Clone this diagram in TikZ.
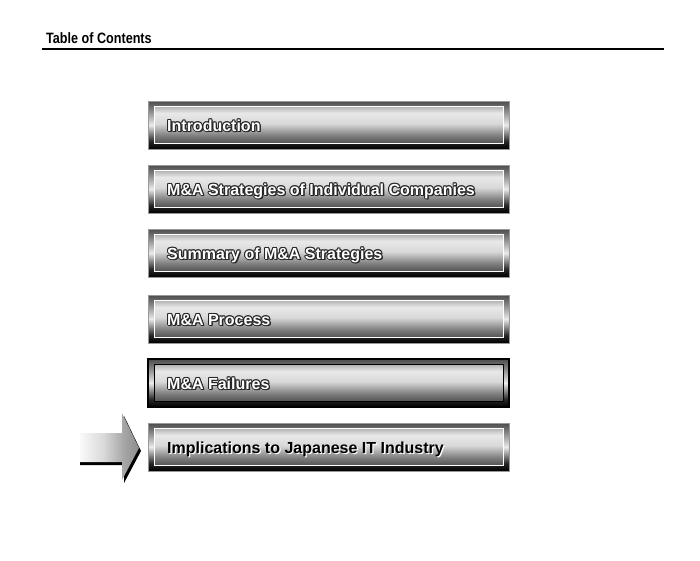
\documentclass[tikz,border=0pt]{standalone}
\usepackage{fontspec}
\usepackage{graphicx}
\setmainfont{Liberation Sans}
\pgfdeclareverticalshading{framesh}{100bp}{color(0bp)=(black); color(25bp)=(black); color(33bp)=(black!85); color(50bp)=(black!8); color(66bp)=(black!50); color(75bp)=(black!70); color(100bp)=(black!70)}
\pgfdeclareverticalshading{panelsh}{100bp}{color(0bp)=(black!68); color(25bp)=(black!68); color(36bp)=(black!50); color(52bp)=(black!15); color(66bp)=(black!9); color(75bp)=(black!30); color(100bp)=(black!30)}
\pgfdeclarehorizontalshading{arrowsh}{100bp}{color(0bp)=(black!2); color(25bp)=(black!2); color(45bp)=(black!15); color(62bp)=(black!35); color(66bp)=(black!38); color(75bp)=(black!45); color(100bp)=(black!45)}
\tikzset{
  outerbox/.style={draw=black!40, line width=1pt, shade, shading=framesh,
    minimum width=361pt, minimum height=48pt, inner sep=0pt, outer sep=0pt, anchor=north west},
  innerpanel/.style={draw=white, line width=1pt, shade, shading=panelsh,
    minimum width=349pt, minimum height=37pt, inner sep=0pt, outer sep=0pt},
  boxtext/.style={font=\bfseries\fontsize{16}{18}\selectfont, inner sep=0pt, anchor=base west},
  titletext/.style={font=\bfseries\fontsize{15}{17}\selectfont, inner sep=0pt, anchor=base west},
}
\newcommand\cpy[4]{\rlap{\hspace*{#1}\raisebox{#2}{\textcolor{#3}{#4}}}}
\newcommand\outl[1]{\cpy{-1pt}{0pt}{black!85}{#1}\cpy{1pt}{0pt}{black!85}{#1}%
  \cpy{0pt}{1pt}{black!85}{#1}\cpy{0pt}{-1pt}{black!85}{#1}%
  \cpy{-0.75pt}{0.75pt}{black!85}{#1}\cpy{0.75pt}{0.75pt}{black!85}{#1}%
  \cpy{-0.75pt}{-0.75pt}{black!85}{#1}\cpy{0.75pt}{-0.75pt}{black!85}{#1}%
  \cpy{1.4pt}{-1.4pt}{black!85}{#1}\textcolor{white}{#1}}
\newcommand\shad[1]{\cpy{1.2pt}{-1.2pt}{white}{#1}\textcolor{black}{#1}}
\begin{document}
\begin{tikzpicture}[x=1pt,y=-1pt]
\useasboundingbox[fill=white] (0,0) rectangle (700,560);
% title
\node[titletext] (title) at (46,43) {\scalebox{0.84}[1]{Table of Contents}};
\coordinate (rl) at (42,49);
\coordinate (rr) at (664,49);
\draw[line width=1.2pt] (rl) -- (rr);
% boxes
\node[outerbox] (b1) at (148,101) {};
\node[innerpanel] (p1) at (b1.center) {};
\node[boxtext] (t1) at (167,131) {\outl{Introduction}};
\node[outerbox] (b2) at (148,165) {};
\node[innerpanel] (p2) at (b2.center) {};
\node[boxtext] (t2) at (167,195) {\outl{M\&A Strategies of Individual Companies}};
\node[outerbox] (b3) at (148,229) {};
\node[innerpanel] (p3) at (b3.center) {};
\node[boxtext] (t3) at (167,259) {\outl{Summary of M\&A Strategies}};
\node[outerbox] (b4) at (148,295) {};
\node[innerpanel] (p4) at (b4.center) {};
\node[boxtext] (t4) at (167,325) {\outl{M\&A Process}};
\node[outerbox, draw=black, line width=1.5pt] (b5) at (148,359) {};
\node[innerpanel, draw=black] (p5) at (b5.center) {};
\node[boxtext] (t5) at (167,389) {\outl{M\&A Failures}};
\node[outerbox] (b6) at (148,423) {};
\node[innerpanel] (p6) at (b6.center) {};
\node[boxtext] (t6) at (167,453) {\shad{Implications to Japanese IT Industry}};
% arrow pointer
\coordinate (a1) at (80,433);
\coordinate (a2) at (122,433);
\coordinate (a3) at (122,413);
\coordinate (a4) at (139,448);
\coordinate (a5) at (122,480);
\coordinate (a6) at (122,462);
\coordinate (a7) at (80,462);
\fill[black] ([shift={(2,3)}]a1) -- ([shift={(2,3)}]a2) -- ([shift={(2,3)}]a3)
  -- ([shift={(2,3)}]a4) -- ([shift={(2,3)}]a5) -- ([shift={(2,3)}]a6) -- ([shift={(0,3)}]a7) -- cycle;
\shade[shading=arrowsh] (a1) -- (a2) -- (a3) -- (a4) -- (a5) -- (a6) -- (a7) -- cycle;
\end{tikzpicture}
\end{document}
